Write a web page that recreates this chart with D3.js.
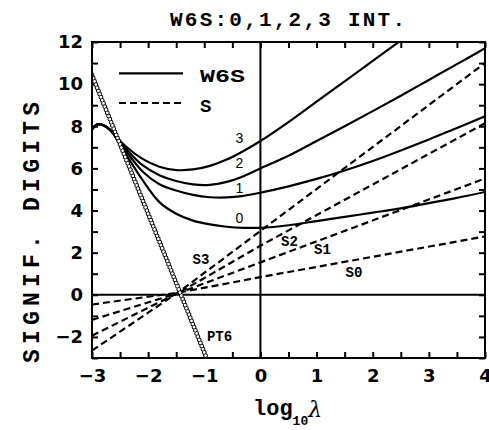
<!DOCTYPE html>
<html>
<head>
<meta charset="utf-8">
<script src="https://cdn.jsdelivr.net/npm/d3@7"></script>
<style>
  body { margin: 0; background: #fff; }
  svg { display: block; }
</style>
</head>
<body>
<div id="chart"></div>
<script>
// data
var xW = [-3, -2.93, -2.86, -2.78, -2.7, -2.65, -2.4, -2.1, -1.8, -1.5, -1.2, -0.9, -0.6, -0.3, 0, 0.5, 1, 1.5, 2, 2.5, 3, 3.5, 4];
var w6s0 = [7.85, 8.05, 8.1, 8.02, 7.88, 7.75, 6.7, 5.45, 4.4, 3.85, 3.52, 3.34, 3.23, 3.18, 3.18, 3.3, 3.5, 3.7, 3.9, 4.1, 4.35, 4.6, 4.88];
var w6s1 = [7.85, 8.05, 8.1, 8.02, 7.88, 7.75, 6.85, 5.85, 5.25, 4.95, 4.74, 4.63, 4.62, 4.7, 4.85, 5.15, 5.5, 5.9, 6.35, 6.85, 7.37, 7.92, 8.47];
var w6s2 = [7.85, 8.05, 8.1, 8.02, 7.88, 7.75, 6.95, 6.15, 5.68, 5.4, 5.24, 5.22, 5.36, 5.63, 6.0, 6.6, 7.3, 8.0, 8.72, 9.45, 10.2, 10.95, 11.7];
var w6s3 = [7.85, 8.05, 8.1, 8.02, 7.88, 7.75, 7.05, 6.45, 6.08, 5.92, 5.95, 6.12, 6.42, 6.83, 7.3, 8.2, 9.17, 10.13, 11.1, 12.07, null, null, null];

var xS = [-3, -1.42, 0, 4];
var s0 = [-0.46, 0.12, 0.84, 2.77];
var s1 = [-1.19, 0.12, 1.54, 5.52];
var s2 = [-1.94, 0.15, 2.33, 8.14];
var s3 = [-2.65, 0.2, 3.03, 11.0];

var xPT6 = [-3, -0.96];
var pt6 = [10.43, -3];

var xTicks = [-3, -2.5, -2, -1.5, -1, -0.5, 0, 0.5, 1, 1.5, 2, 2.5, 3, 3.5, 4];
var yTicks = [-3, -2, -1, 0, 1, 2, 3, 4, 5, 6, 7, 8, 9, 10, 11, 12];
var yLabels = [-2, 0, 2, 4, 6, 8, 10, 12];

// set the dimensions and margins of the graph
var margin = {top: 42, right: 4, bottom: 72, left: 92},
    width = 489 - margin.left - margin.right,
    height = 430 - margin.top - margin.bottom;

var root = d3.select("#chart")
  .append("svg")
    .attr("width", 489)
    .attr("height", 430);

var svg = root.append("g")
    .attr("transform", "translate(" + margin.left + "," + margin.top + ")");

var x = d3.scaleLinear().domain([-3, 4]).range([0, width]);
var y = d3.scaleLinear().domain([-3, 12]).range([height, 0]);

var tickFont = "'DejaVu Sans', sans-serif";
var monoFont = "'Liberation Mono', 'DejaVu Sans Mono', monospace";
var fmtMinus = function(v) { return v < 0 ? "\u2212" + Math.abs(v) : String(v); };

svg.append("clipPath").attr("id", "plotclip")
  .append("rect").attr("width", width).attr("height", height);

// axes: ticks point inward
svg.append("g")
  .attr("transform", "translate(0," + height + ")")
  .call(d3.axisBottom(x).tickValues(xTicks).tickSizeInner(-6).tickSizeOuter(0).tickPadding(11)
    .tickFormat(function(d) { return Number.isInteger(d) ? fmtMinus(d) : ""; }));
svg.append("g")
  .call(d3.axisTop(x).tickValues(xTicks).tickSizeInner(-6).tickSizeOuter(0).tickFormat(""));
svg.append("g")
  .call(d3.axisLeft(y).tickValues(yTicks).tickSizeInner(-6).tickSizeOuter(0).tickPadding(9)
    .tickFormat(function(d) { return yLabels.indexOf(d) >= 0 ? fmtMinus(d) : ""; }));
svg.append("g")
  .attr("transform", "translate(" + width + ",0)")
  .call(d3.axisRight(y).tickValues(yTicks).tickSizeInner(-6).tickSizeOuter(0).tickFormat(""));

svg.selectAll(".domain").remove();
svg.selectAll(".tick line").attr("stroke", "#000").attr("stroke-width", 2);
svg.selectAll(".tick text")
  .style("font-family", tickFont)
  .style("font-weight", "bold")
  .style("font-size", "18px")
  .attr("fill", "#000");

// zero lines
svg.append("line")
  .attr("x1", 0).attr("x2", width)
  .attr("y1", y(0)).attr("y2", y(0))
  .attr("stroke", "#000").attr("stroke-width", 2);
svg.append("line")
  .attr("x1", x(0)).attr("x2", x(0))
  .attr("y1", 0).attr("y2", height)
  .attr("stroke", "#000").attr("stroke-width", 2);

var plot = svg.append("g").attr("clip-path", "url(#plotclip)");

// S lines (dashed)
var sLine = d3.line()
  .x(function(d) { return x(d[0]); })
  .y(function(d) { return y(d[1]); });
[s0, s1, s2, s3].forEach(function(vals) {
  plot.append("path")
    .datum(xS.map(function(v, i) { return [v, vals[i]]; }))
    .attr("fill", "none")
    .attr("stroke", "#000")
    .attr("stroke-width", 2.2)
    .attr("stroke-dasharray", "7,4")
    .attr("d", sLine);
});

// W6S curves
var wLine = d3.line()
  .defined(function(d) { return d[1] !== null; })
  .x(function(d) { return x(d[0]); })
  .y(function(d) { return y(d[1]); })
  .curve(d3.curveCatmullRom.alpha(0.5));
[w6s0, w6s1, w6s2, w6s3].forEach(function(vals) {
  plot.append("path")
    .datum(xW.map(function(v, i) { return [v, vals[i]]; }))
    .attr("fill", "none")
    .attr("stroke", "#000")
    .attr("stroke-width", 2.2)
    .attr("d", wLine);
});

// PT6: chain of small open circles
var ptData = xPT6.map(function(v, i) { return [v, pt6[i]]; });
plot.append("path")
  .datum(ptData)
  .attr("fill", "none")
  .attr("stroke", "#000")
  .attr("stroke-width", 4.8)
  .attr("stroke-linecap", "round")
  .attr("stroke-dasharray", "0,3.4")
  .attr("d", sLine);
plot.append("path")
  .datum(ptData)
  .attr("fill", "none")
  .attr("stroke", "#fff")
  .attr("stroke-width", 2.8)
  .attr("stroke-linecap", "round")
  .attr("stroke-dasharray", "0,3.4")
  .attr("d", sLine);

// frame
svg.append("rect")
  .attr("width", width).attr("height", height)
  .attr("fill", "none")
  .attr("stroke", "#000")
  .attr("stroke-width", 2);

// curve labels
var curveLabels = [
  {t: "3", x: 239.3, y: 143.3},
  {t: "2", x: 239.3, y: 168.3},
  {t: "1", x: 239.3, y: 192.7},
  {t: "0", x: 239.3, y: 222.7}
];
root.selectAll(".clab")
  .data(curveLabels)
  .enter().append("text")
    .attr("x", function(d) { return d.x; })
    .attr("y", function(d) { return d.y; })
    .attr("text-anchor", "middle")
    .style("font-family", "'Liberation Sans', sans-serif")
    .style("font-size", "14px")
    .text(function(d) { return d.t; });

var sLabels = [
  {t: "S3", x: 201, y: 264},
  {t: "S2", x: 289.5, y: 246},
  {t: "S1", x: 322.5, y: 254.3},
  {t: "S0", x: 354, y: 276.7},
  {t: "PT6", x: 219.5, y: 340.7}
];
root.selectAll(".slab")
  .data(sLabels)
  .enter().append("text")
    .attr("x", function(d) { return d.x; })
    .attr("y", function(d) { return d.y; })
    .attr("text-anchor", "middle")
    .style("font-family", monoFont)
    .style("font-weight", "bold")
    .style("font-size", "14px")
    .text(function(d) { return d.t; });

// legend
root.append("line")
  .attr("x1", 119).attr("x2", 183).attr("y1", 73.3).attr("y2", 73.3)
  .attr("stroke", "#000").attr("stroke-width", 2.2);
root.append("line")
  .attr("x1", 119).attr("x2", 183).attr("y1", 103).attr("y2", 103)
  .attr("stroke", "#000").attr("stroke-width", 2.2).attr("stroke-dasharray", "7,4");
root.append("text")
  .attr("x", 200).attr("y", 81.7)
  .attr("textLength", 45).attr("lengthAdjust", "spacingAndGlyphs")
  .style("font-family", monoFont).style("font-weight", "bold").style("font-size", "19px")
  .text("W6S");
root.append("text")
  .attr("x", 200).attr("y", 111.7)
  .style("font-family", monoFont).style("font-weight", "bold").style("font-size", "19px")
  .text("S");

// title
root.append("text")
  .attr("x", 170).attr("y", 26)
  .attr("textLength", 235).attr("lengthAdjust", "spacing")
  .style("font-family", monoFont).style("font-weight", "bold").style("font-size", "21px")
  .text("W6S:0,1,2,3 INT.");

// y label
root.append("text")
  .attr("transform", "translate(39,363) rotate(-90)")
  .attr("textLength", 261).attr("lengthAdjust", "spacing")
  .style("font-family", monoFont).style("font-weight", "bold").style("font-size", "23px")
  .text("SIGNIF. DIGITS");

// x label
var xl = root.append("text")
  .attr("x", 253).attr("y", 415)
  .style("font-family", monoFont).style("font-weight", "bold").style("font-size", "22px");
xl.append("tspan").text("log");
xl.append("tspan").attr("dy", 10).style("font-size", "13px").text("10");
xl.append("tspan").attr("dy", -8).style("font-family", "'DejaVu Serif', serif").style("font-style", "italic").style("font-weight", "normal").style("font-size", "22px").text("\u03bb");
</script>
</body>
</html>
